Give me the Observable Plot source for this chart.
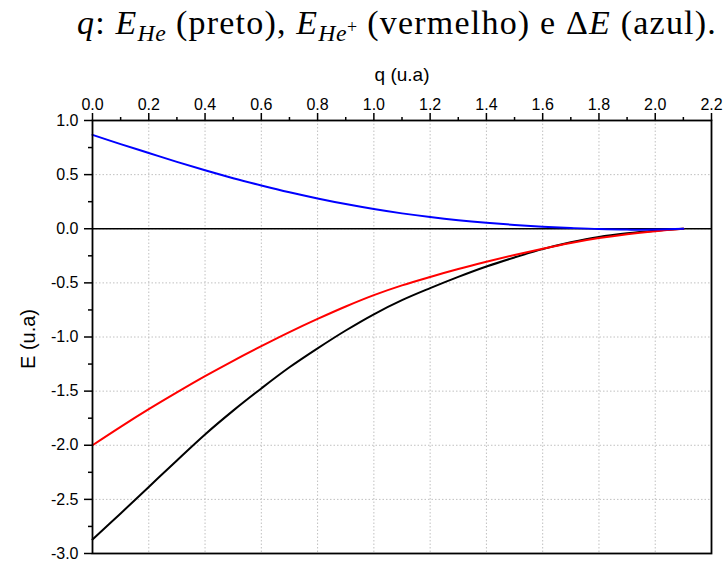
<!DOCTYPE html>
<html><head><meta charset="utf-8">
<script src="https://cdn.jsdelivr.net/npm/d3@7"></script>
<script src="https://cdn.jsdelivr.net/npm/@observablehq/plot@0.6"></script>
<style>
body{margin:0;background:#fff;width:728px;overflow:hidden;}
#title{height:45px;font-family:"Liberation Serif","DejaVu Serif",serif;font-size:34px;letter-spacing:1.2px;text-align:center;line-height:45px;padding-left:66px;white-space:nowrap;color:#000;}
#title sub{font-size:0.7em;vertical-align:-0.3em;line-height:0;letter-spacing:0.5px;}
#title sup{font-size:0.75em;vertical-align:0.45em;line-height:0;}
</style></head><body>
<div id="title"><i>q</i>: <i>E</i><sub><i>He</i></sub> (preto), <i>E</i><sub><i>He</i><sup>+</sup></sub> (vermelho) e Δ<i>E</i> (azul).</div>
<div id="chart"></div>
<script>
const q    = [0, 0.1, 0.2, 0.3, 0.4, 0.5, 0.6, 0.7, 0.8, 0.9, 1.0, 1.1, 1.2, 1.3, 1.4, 1.5, 1.6, 1.7, 1.8, 1.9, 2.0, 2.1];
const eHe  = [-2.87, -2.63, -2.385, -2.14, -1.90, -1.68, -1.475, -1.28, -1.105, -0.94, -0.79, -0.66, -0.549, -0.445, -0.349, -0.265, -0.188, -0.125, -0.075, -0.042, -0.018, 0.0];
const eHeP = [-2.0, -1.83, -1.667, -1.512, -1.362, -1.22, -1.085, -0.955, -0.833, -0.718, -0.613, -0.523, -0.445, -0.372, -0.305, -0.242, -0.184, -0.131, -0.086, -0.05, -0.022, 0.0];
const dE   = [0.867, 0.782, 0.700, 0.618, 0.54, 0.467, 0.40, 0.337, 0.28, 0.228, 0.182, 0.142, 0.108, 0.079, 0.055, 0.035, 0.019, 0.007, -0.003, -0.008, -0.006, 0.0];
const xTicks = [0, 0.2, 0.4, 0.6, 0.8, 1.0, 1.2, 1.4, 1.6, 1.8, 2.0, 2.2];
const xMinor = [0.1, 0.3, 0.5, 0.7, 0.9, 1.1, 1.3, 1.5, 1.7, 1.9, 2.1];
const yTicks = [-3.0, -2.5, -2.0, -1.5, -1.0, -0.5, 0.0, 0.5, 1.0];
const yMinor = [-2.75, -2.25, -1.75, -1.25, -0.75, -0.25, 0.25, 0.75];

const data = q.map((x, i) => ({q: x, he: eHe[i], hep: eHeP[i], de: dE[i]}));

const chart = Plot.plot({
  width: 728, height: 519,
  marginTop: 75, marginLeft: 92, marginRight: 17, marginBottom: 11,
  style: {fontFamily: "'Liberation Sans', Arial, sans-serif", fontSize: "16px", background: "white", color: "black"},
  x: {domain: [0, 2.2]},
  y: {domain: [-3, 1]},
  marks: [
    Plot.gridX(xTicks.slice(1, -1), {stroke: "#c0c0c0", strokeOpacity: 1, strokeDasharray: "1.5,2"}),
    Plot.gridY(yTicks.slice(1, -1), {stroke: "#c0c0c0", strokeOpacity: 1, strokeDasharray: "1.5,2"}),
    Plot.ruleY([0], {stroke: "black", strokeWidth: 1.5}),
    Plot.line(data, {x: "q", y: "he", stroke: "#000000", strokeWidth: 2, curve: "catmull-rom"}),
    Plot.line(data, {x: "q", y: "hep", stroke: "#ff0000", strokeWidth: 2, curve: "catmull-rom"}),
    Plot.line(data, {x: "q", y: "de", stroke: "#0000ff", strokeWidth: 2, curve: "catmull-rom"}),
    Plot.frame({stroke: "black", strokeWidth: 1.8}),
    Plot.axisX(xMinor, {anchor: "top", tickSize: 4, text: null, label: null, strokeWidth: 1.5}),
    Plot.axisX(xTicks, {anchor: "top", tickSize: 8, tickPadding: 3, tickFormat: d => d.toFixed(1), label: null, strokeWidth: 1.5, fontSize: 16}),
    Plot.axisY(yMinor, {anchor: "left", tickSize: 4, text: null, label: null, strokeWidth: 1.5}),
    Plot.axisY(yTicks, {anchor: "left", tickSize: 8, tickPadding: 6, tickFormat: d => d.toFixed(1), label: null, strokeWidth: 1.5, fontSize: 16}),
    Plot.text(["q (u.a)"], {frameAnchor: "top", dy: -53, fontSize: 19, text: d => d, style: "letter-spacing:1.5px"}),
    Plot.text(["E (u.a)"], {frameAnchor: "left", dx: -64, dy: 32, rotate: -90, fontSize: 20, text: d => d, style: "letter-spacing:1.5px"})
  ]
});
document.getElementById("chart").append(chart);
</script>
</body></html>
